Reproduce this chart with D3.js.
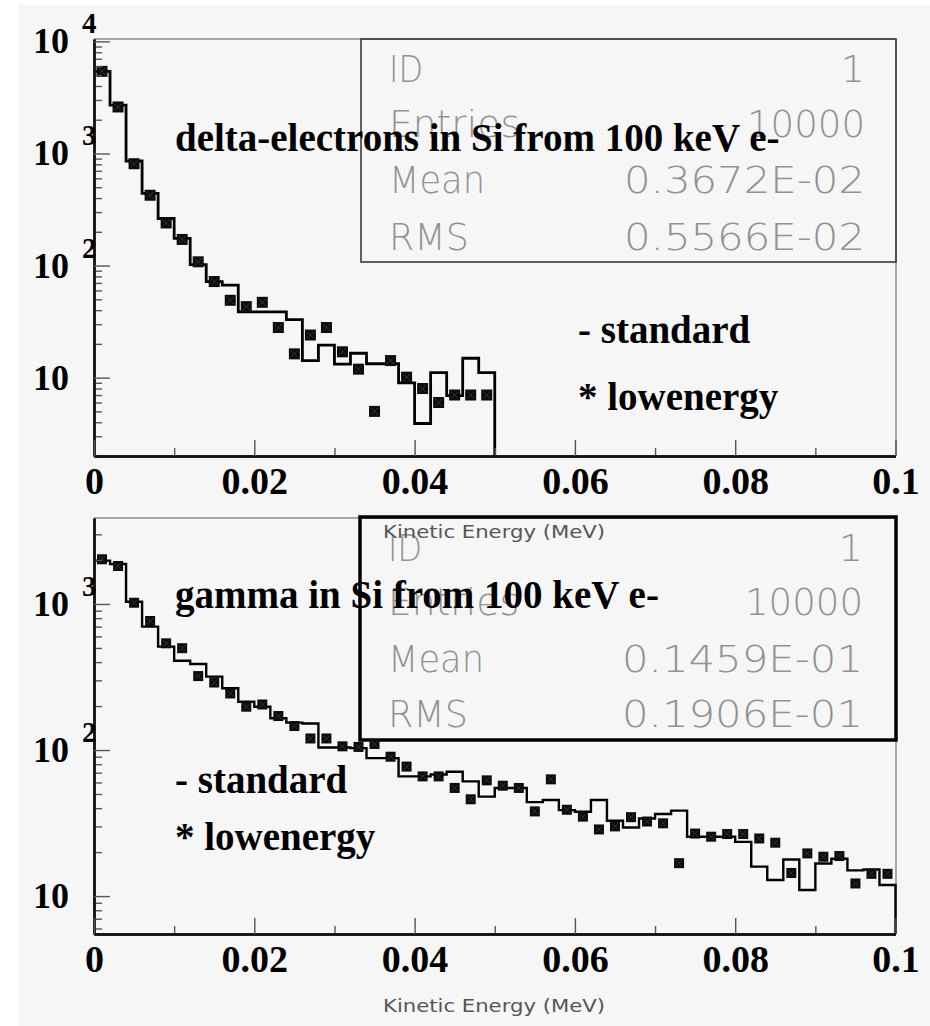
<!DOCTYPE html>
<html><head><meta charset="utf-8">
<script src="https://cdn.jsdelivr.net/npm/d3@7"></script>
<style>html,body{margin:0;padding:0;background:#fff;} svg{display:block;}</style>
</head><body>
<svg id="chart" width="930" height="1026"></svg>
<script>
// ---------- data ----------
const binWidth = 0.002; // MeV per bin
const xTickValues = [0, 0.02, 0.04, 0.06, 0.08, 0.1];
const xTickLabels = ["0", "0.02", "0.04", "0.06", "0.08", "0.1"];
const xMinorTicks = [0.01, 0.03, 0.05, 0.07, 0.09];

// delta-electrons (top): standard histogram (bins 0..24, 0-0.05 MeV)
const deltaStandard = [5400, 2700, 857, 440, 263, 175, 102, 72, 67, 38.6,
  38.6, 38.6, 33, 14.2, 19.5, 13.2, 16.5, 13.3, 13.3, 9.0,
  3.9, 11.1, 6.9, 14.9, 11.1];
// delta-electrons (top): lowenergy points
const deltaLowenergy = [5400, 2600, 810, 424, 240, 171, 108, 72, 49, 43,
  47, 28, 16.3, 24, 28, 17, 11.9, 5.0, 14.2, 10.1,
  8.0, 6.0, 7.0, 7.0, 7.0];

// gamma (bottom): standard histogram (bins 0..49, 0-0.1 MeV)
const gammaStandard = [1982, 1879, 1037, 700, 511, 409, 388, 318, 265, 214,
  198, 165, 154, 152, 104, 104, 103, 88, 88, 66,
  66, 68, 71, 61, 48, 55, 55, 44, 45.5, 38.8,
  37.8, 45.5, 32.8, 29.5, 34, 36.5, 38.5, 25.5, 25.5, 25.5,
  23.5, 15.9, 12.9, 17.8, 11, 16.7, 18, 15, 15.2, 11.9];
// gamma (bottom): lowenergy points
const gammaLowenergy = [2024, 1820, 1020, 765, 538, 498, 321, 290, 244, 198,
  205, 171, 146, 120, 120, 106, 105, 110, 90, 77,
  66, 66, 55, 46, 62, 57, 55, 38, 63, 39,
  35, 28.6, 30, 34.7, 32.4, 31.5, 16.8, 26.8, 25.5, 26.6,
  26.6, 24.8, 23.2, 14.4, 19.6, 18.6, 18.8, 12.2, 14.2, 14.2];

const statLabels = ["ID", "Entries", "Mean", "RMS"];
const deltaStatValues = ["1", "10000", "0.3672E-02", "0.5566E-02"];
const gammaStatValues = ["1", "10000", "0.1459E-01", "0.1906E-01"];

const deltaTitle = "delta-electrons in Si from 100 keV e-";
const gammaTitle = "gamma in Si from 100 keV e-";
const legendLabels = ["- standard", "* lowenergy"];
const xAxisTitle = "Kinetic Energy (MeV)";

// ---------- drawing ----------
const svg = d3.select("#chart");
svg.append("rect").attr("x", 18).attr("y", 5).attr("width", 912).attr("height", 1021).attr("fill", "#f6f6f6");

const x = d3.scaleLinear().domain([0, 0.1]).range([94, 895.5]);
const serif = "'Liberation Serif', 'Times New Roman', serif";
const thin = "'DejaVu Sans', sans-serif";
const textLayer = [];

function drawPanel(c) {
  const y = d3.scaleLog().domain(c.yDomain).range([c.bottom, c.top]);
  const g = svg.append("g");

  // frame (top & right)
  g.append("line").attr("x1", 94).attr("x2", 896).attr("y1", c.top).attr("y2", c.top)
    .attr("stroke", "#8c8c8c").attr("stroke-width", 1.5);
  g.append("line").attr("x1", 896).attr("x2", 896).attr("y1", c.top).attr("y2", c.bottom)
    .attr("stroke", "#8c8c8c").attr("stroke-width", 1.5);

  // stats box
  g.append("rect").attr("x", c.box[0]).attr("y", c.box[1])
    .attr("width", c.box[2] - c.box[0]).attr("height", c.box[3] - c.box[1])
    .attr("fill", "none").attr("stroke", c.boxStroke).attr("stroke-width", c.boxWidth);

  const labelW = [34, 131, 96, 80];
  statLabels.forEach((lab, i) => {
    g.append("text").attr("x", c.statLabelX).attr("y", c.statRows[i])
      .attr("font-family", thin).attr("font-weight", 200).attr("font-size", 38)
      .attr("fill", "#929292").attr("textLength", labelW[i]).attr("lengthAdjust", "spacingAndGlyphs")
      .text(lab);
    const v = c.stats[i];
    const t = g.append("text").attr("x", c.statValueRight).attr("y", c.statRows[i])
      .attr("text-anchor", "end")
      .attr("font-family", thin).attr("font-weight", 200).attr("font-size", 38)
      .attr("fill", "#929292").text(v);
    if (v.length > 1) {
      const w = v.length === 5 ? 118 : 241;
      t.attr("textLength", w).attr("lengthAdjust", "spacingAndGlyphs");
    }
  });

  // histogram (standard)
  const steps = c.std.map((v, i) => ({ e: i * binWidth, v }));
  const endE = c.std.length * binWidth;
  steps.push({ e: endE, v: c.std[c.std.length - 1] });
  steps.push({ e: endE, v: c.yDomain[0] });
  const line = d3.line().x(d => x(d.e)).y(d => y(d.v)).curve(d3.curveStepAfter);
  g.append("path").attr("d", line(steps)).attr("fill", "none")
    .attr("stroke", "#000").attr("stroke-width", c.lineW).attr("stroke-linejoin", "miter");

  // markers (lowenergy)
  const s = c.markerSize;
  const mk = g.selectAll("g.mk").data(c.low).enter().append("g")
    .attr("transform", (v, i) => `translate(${x((i + 0.5) * binWidth)},${y(v)})`);
  mk.append("rect").attr("x", -s / 2).attr("y", -s / 2).attr("width", s).attr("height", s).attr("fill", "#0c0c0c");
  mk.append("path").attr("d", `M${-s/2+2},${-s/2+2}L${s/2-2},${s/2-2}M${-s/2+2},${s/2-2}L${s/2-2},${-s/2+2}`)
    .attr("stroke", "#3c3c3c").attr("stroke-width", 0.8);

  // y axis (inward ticks)
  const minors = [];
  for (let p = 0; p <= 4; p++) for (let m = 2; m <= 9; m++) {
    const v = m * Math.pow(10, p);
    if (v >= c.yDomain[0] && v <= c.yDomain[1]) minors.push(v);
  }
  const yMinor = g.append("g").attr("transform", "translate(94,0)")
    .call(d3.axisLeft(y).tickValues(minors).tickSize(-8).tickSizeOuter(0).tickFormat(""));
  const yMajor = g.append("g").attr("transform", "translate(94,0)")
    .call(d3.axisLeft(y).tickValues(c.decades).tickSize(-16).tickSizeOuter(0).tickFormat(""));
  [yMinor, yMajor].forEach(a => {
    a.selectAll(".tick line").attr("stroke", "#555").attr("stroke-width", 1.4);
    a.select(".domain").attr("stroke", "#111").attr("stroke-width", 2.4);
  });

  // y labels: 10 with superscript exponent
  c.decades.forEach(d => {
    const e = Math.round(Math.log10(d));
    g.append("text").attr("x", 69).attr("y", y(d) + 12).attr("text-anchor", "end")
      .attr("font-family", serif).attr("font-weight", "bold").attr("font-size", 36).text("10");
    if (e > 1) {
      g.append("text").attr("x", 82).attr("y", y(d) - 8)
        .attr("font-family", serif).attr("font-weight", "bold").attr("font-size", 29).text(String(e));
    }
  });

  // x axis (inward ticks)
  const xMinor = g.append("g").attr("transform", `translate(0,${c.bottom})`)
    .call(d3.axisBottom(x).tickValues(xMinorTicks).tickSize(-8).tickSizeOuter(0).tickFormat(""));
  const xMajor = g.append("g").attr("transform", `translate(0,${c.bottom})`)
    .call(d3.axisBottom(x).tickValues(xTickValues).tickSize(-16).tickSizeOuter(0).tickPadding(11)
      .tickFormat((d, i) => xTickLabels[i]));
  [xMinor, xMajor].forEach(a => {
    a.selectAll(".tick line").attr("stroke", "#555").attr("stroke-width", 1.4);
    a.select(".domain").attr("stroke", "#111").attr("stroke-width", 2.4);
  });
  xMajor.selectAll(".tick text").attr("font-family", serif).attr("font-weight", "bold")
    .attr("font-size", 38).attr("fill", "#000");

  // title, legend (drawn later on top of everything)
  textLayer.push({ x: 175, y: c.titleY, t: c.title });
  legendLabels.forEach((t, i) => textLayer.push({ x: c.legend[i][0], y: c.legend[i][1], t }));
  textLayer.push({ x: 383, y: c.kineticY, t: xAxisTitle, small: true });
}

drawPanel({
  yDomain: [2, 10500], top: 39, bottom: 456, decades: [10, 100, 1000, 10000],
  std: deltaStandard, low: deltaLowenergy, markerSize: 11, lineW: 2.8,
  box: [361, 39, 896, 262], boxStroke: "#3a3a3a", boxWidth: 1.6,
  stats: deltaStatValues, statRows: [82, 137, 193, 250], statLabelX: 389, statValueRight: 865,
  title: deltaTitle, titleY: 151, legend: [[578, 343], [578, 410]], kineticY: 538
});

drawPanel({
  yDomain: [5.5, 3880], top: 518, bottom: 934, decades: [10, 100, 1000],
  std: gammaStandard, low: gammaLowenergy, markerSize: 10, lineW: 2.4,
  box: [360, 517, 896, 740], boxStroke: "#000", boxWidth: 3.5,
  stats: gammaStatValues, statRows: [561, 615, 672, 727], statLabelX: 388, statValueRight: 863,
  title: gammaTitle, titleY: 608, legend: [[175, 793], [175, 850]], kineticY: 1012
});

textLayer.forEach(d => {
  const t = svg.append("text").attr("x", d.x).attr("y", d.y).text(d.t);
  if (d.small) {
    t.attr("font-family", thin).attr("font-size", 18).attr("fill", "#555")
      .attr("textLength", 222).attr("lengthAdjust", "spacingAndGlyphs");
  } else {
    t.attr("font-family", serif).attr("font-weight", "bold").attr("font-size", 39).attr("fill", "#000");
  }
});
</script>
</body></html>
